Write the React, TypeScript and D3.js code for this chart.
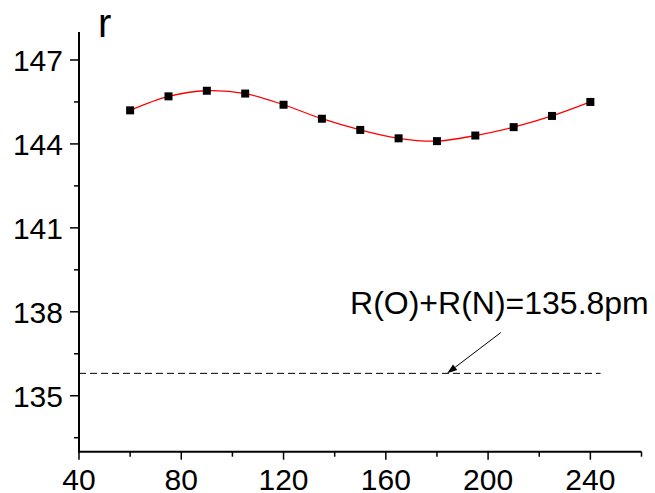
import React from "react";
import * as d3 from "d3";

// Bond length r (pm) against angle, with the sum of covalent radii as reference
const angles = [60, 75, 90, 105, 120, 135, 150, 165, 180, 195, 210, 225, 240];
const rValues = [145.2, 145.7, 145.9, 145.8, 145.4, 144.9, 144.5, 144.2, 144.1, 144.3, 144.6, 145.0, 145.5];
const xTicks = [40, 80, 120, 160, 200, 240];
const xMinorTicks = [60, 100, 140, 180, 220, 260];
const yTicks = [135, 138, 141, 144, 147];
const yMinorTicks = [133.5, 136.5, 139.5, 142.5, 145.5];
const radiusSum = 135.8;
const radiusLabel = "R(O)+R(N)=135.8pm";
const yLabel = "r";

const W = 655;
const H = 493;
const FONT = "'Liberation Sans', Arial, sans-serif";

export default function App() {
  const x = d3.scaleLinear().domain([40, 260]).range([79, 641.5]);
  const y = d3.scaleLinear().domain([133, 148]).range([451.7, 32]);

  const pts: [number, number][] = angles.map((a, i) => [x(a), y(rValues[i])]);
  const line = d3.line().curve(d3.curveCatmullRom.alpha(0.5))(pts) || "";

  const sq = 8;
  const x0 = x(40);
  const yb = y(133);

  // annotation arrow
  const ax1 = x(205), ay1 = y(137.26);
  const ax2 = x(184), ay2 = y(radiusSum);
  const ang = Math.atan2(ay2 - ay1, ax2 - ax1);
  const hl = 10, hw = 3.5;
  const bx = ax2 - hl * Math.cos(ang), by = ay2 - hl * Math.sin(ang);
  const head = [
    [ax2, ay2],
    [bx + hw * Math.sin(ang), by - hw * Math.cos(ang)],
    [bx - hw * Math.sin(ang), by + hw * Math.cos(ang)],
  ].map((p) => p.join(",")).join(" ");

  return (
    <svg width={W} height={H} style={{ position: "absolute", left: 0, top: 0, background: "#fff" }} fontFamily={FONT}>
      {/* axes */}
      <line x1={x0} y1={y(148)} x2={x0} y2={yb + 1} stroke="#000" strokeWidth={2} />
      <line x1={x0 - 1} y1={yb} x2={x(260)} y2={yb} stroke="#000" strokeWidth={2} />

      {yTicks.map((t) => (
        <g key={"y" + t}>
          <line x1={x0 - 9} x2={x0} y1={y(t)} y2={y(t)} stroke="#000" strokeWidth={1.5} />
          <text x={x0 - 16} y={y(t)} dy="0.36em" textAnchor="end" fontSize={30} fill="#000">{t}</text>
        </g>
      ))}
      {yMinorTicks.map((t) => (
        <line key={"ym" + t} x1={x0 - 5} x2={x0} y1={y(t)} y2={y(t)} stroke="#000" strokeWidth={1.5} />
      ))}
      {xTicks.map((t) => (
        <g key={"x" + t}>
          <line x1={x(t)} x2={x(t)} y1={yb} y2={yb + 8} stroke="#000" strokeWidth={1.5} />
          <text x={x(t)} y={490} textAnchor="middle" fontSize={30} fill="#000">{t}</text>
        </g>
      ))}
      {xMinorTicks.map((t) => (
        <line key={"xm" + t} x1={x(t)} x2={x(t)} y1={yb} y2={yb + 5} stroke="#000" strokeWidth={1.5} />
      ))}

      <text x={98} y={37} fontSize={40} fill="#000">{yLabel}</text>

      {/* reference level */}
      <line x1={x0} x2={x(244)} y1={y(radiusSum)} y2={y(radiusSum)} stroke="#000" strokeWidth={1} strokeDasharray="7,4" />
      <line x1={ax1} y1={ay1} x2={bx} y2={by} stroke="#000" strokeWidth={1} />
      <polygon points={head} fill="#000" />
      <text x={x(146)} y={314.3} fontSize={32} fill="#000">{radiusLabel}</text>

      {/* fitted curve and data */}
      <path d={line} fill="none" stroke="#ff0000" strokeWidth={1.3} />
      {pts.map(([px, py], i) => (
        <rect key={i} x={px - sq / 2} y={py - sq / 2} width={sq} height={sq} fill="#000" />
      ))}
    </svg>
  );
}
